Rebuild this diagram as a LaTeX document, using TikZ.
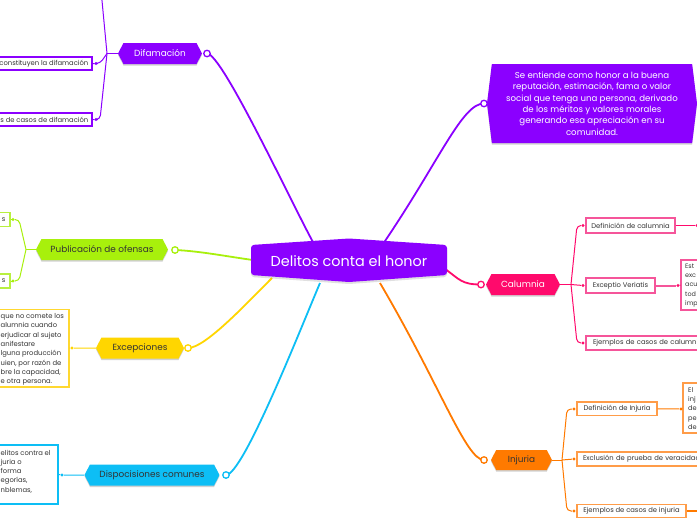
\documentclass[tikz,border=0pt]{standalone}
\usepackage{fontspec}
\setmainfont{Poppins}
\usetikzlibrary{shapes.symbols,calc,shadows}
\definecolor{cpur}{HTML}{8B00FF}
\definecolor{clime}{HTML}{A8F00C}
\definecolor{climel}{HTML}{B8F040}
\definecolor{cyel}{HTML}{FFD600}
\definecolor{cyell}{HTML}{FFD830}
\definecolor{ccya}{HTML}{0DBEF5}
\definecolor{cpink}{HTML}{FF0A6C}
\definecolor{cpinkl}{HTML}{F5559A}
\definecolor{corange}{HTML}{FF7A00}
\definecolor{corangel}{HTML}{FF9C48}
\definecolor{txt}{HTML}{333333}
\begin{document}
\begin{tikzpicture}[x=1pt,y=-1pt,
  branch/.style={shape=signal, signal to=east and west, signal pointer angle=125, inner sep=0pt,
     font=\fontsize{8.9}{10}\selectfont, drop shadow={shadow xshift=0pt, shadow yshift=-1.5pt, opacity=0.18, fill=black}},
  leaf/.style={draw, fill=white, line width=1.1pt, inner sep=0pt, font=\fontsize{6.8}{9}\selectfont, text=txt},
  leaftext/.style={inner sep=0pt, align=left, text=txt},
  ring/.style={circle, draw, fill=white, line width=1.3pt, minimum size=6.5pt, inner sep=0pt},
  dot/.style={circle, fill, minimum size=3.2pt, inner sep=0pt},
  conn/.style={line width=1.8pt},
  brk/.style={line width=1pt, rounded corners=4pt}]

\useasboundingbox (0,0) rectangle (697,520);
\fill[white] (0,0) rectangle (697,520);
\clip (0,0) rectangle (697,520);

% anchor points on the central node
\coordinate (c-dif) at (314,244);
\coordinate (c-desc) at (383,244);
\coordinate (c-pub) at (253,260);
\coordinate (c-exc) at (272,278);
\coordinate (c-dis) at (320,283);
\coordinate (c-cal) at (444,268);
\coordinate (c-inj) at (380,283);

% ---------- main connectors ----------
\draw[conn, cpur] (207,53.5) .. controls (222,53.5) and (290,200) .. (c-dif);
\draw[conn, cpur] (c-desc) .. controls (440,160) and (462,103.5) .. (484,103.5);
\draw[conn, clime] (175,250) .. controls (200,251) and (230,257) .. (c-pub);
\draw[conn, cyel] (188,348) .. controls (205,348) and (245,305) .. (c-exc);
\draw[conn, ccya] (226,475) .. controls (243,475) and (300,330) .. (c-dis);
\draw[conn, cpink] (c-cal) .. controls (460,280) and (462,284.5) .. (481,284.5);
\draw[conn, corange] (c-inj) .. controls (440,385) and (466,460) .. (484,460);

% ---------- branch nodes ----------
\node[branch, fill=cpur, text=white, minimum width=84, minimum height=21] (dif) at (160,53.5) {Difamación};
\node[ring, draw=cpur] (dif-r) at (207,53.5) {};
\node[branch, fill=clime, text=txt, minimum width=132, minimum height=21] (pub) at (102,249.5) {Publicación de ofensas};
\node[ring, draw=clime] (pub-r) at (175,250) {};
\node[branch, fill=cyel, text=txt, minimum width=88, minimum height=21] (exc) at (140,348) {Excepciones};
\node[ring, draw=cyel] (exc-r) at (188,348) {};
\node[branch, fill=ccya, text=txt, minimum width=135, minimum height=21] (dis) at (152,475) {Dispocisiones comunes};
\node[ring, draw=ccya] (dis-r) at (226,475) {};
\node[branch, fill=cpink, text=white, minimum width=74, minimum height=21] (cal) at (523,284.5) {Calumnia};
\node[ring, draw=cpink] (cal-r) at (481,284.5) {};
\node[branch, fill=corange, text=txt, minimum width=61, minimum height=20] (inj) at (521.5,460) {Injuria};
\node[ring, draw=corange] (inj-r) at (484,460) {};
\node[shape=signal, signal to=east and west, signal pointer angle=166, fill=cpur, text=white,
      minimum width=210, minimum height=79, inner sep=0pt, align=center,
      font=\fontsize{8.6}{11.4}\selectfont,
      drop shadow={shadow xshift=0pt, shadow yshift=-1.5pt, opacity=0.18, fill=black}] (desc) at (592,103.5)
  {Se entiende como honor a la buena\\reputación, estimación, fama o valor\\social que tenga una persona, derivado\\de los méritos y valores morales\\generando esa apreciación en su\\comunidad.};
\node[ring, draw=cpur] (desc-r) at (484,103.5) {};

% ---------- central node ----------
\fill[black, opacity=0.12, rounded corners=3pt] (251,247) -- (349,240) -- (447,247) -- (447,277) -- (349,284) -- (251,277) -- cycle;
\fill[cpur, rounded corners=3pt] (251,245) -- (349,238.5) -- (447,245) -- (447,275) -- (349,282) -- (251,275) -- cycle;
\node[text=white, font=\fontsize{14.4}{16}\selectfont, inner sep=0pt] (center) at (349,261) {Delitos conta el honor};

% ---------- Difamación children ----------
\coordinate (dif-j) at (107,53.5);
\node[leaf, draw=cpur, minimum width=112, minimum height=13] (d1) at (36,63.5) {};
\node[leaf, draw=cpur, minimum width=112, minimum height=13] (d2) at (36,119.5) {};
\node[leaftext, anchor=east, font=\fontsize{6.8}{9}\selectfont] (d1-t) at (88.5,63.5) {constituyen la difamación};
\node[leaftext, anchor=east, font=\fontsize{6.8}{9}\selectfont] (d2-t) at (88.5,119.5) {s de casos de difamación};
\node[dot, cpur] (d1-dot) at (96,63.5) {};
\node[dot, cpur] (d2-dot) at (96,119.5) {};
\coordinate (d0) at (101,-10);
\draw[brk, cpur] (dif.west) -- (dif-j);
\draw[brk, cpur] (dif-j) -- (d0);
\draw[brk, cpur] (dif-j) -- (100,63.5) -- (d1-dot);
\draw[brk, cpur] (dif-j) -- (100,119.5) -- (d2-dot);
\draw[cpur, line width=1pt] (d1-dot) -- (d1.east);
\draw[cpur, line width=1pt] (d2-dot) -- (d2.east);

% ---------- Publicación children ----------
\coordinate (pub-j) at (26,249.5);
\node[leaf, draw=climel, minimum width=30, minimum height=14] (p1) at (-5,219.5) {};
\node[leaf, draw=climel, minimum width=30, minimum height=14] (p2) at (-5,281) {};
\node[leaftext, anchor=east, font=\fontsize{6.8}{9}\selectfont] (p1-t) at (5.5,219.5) {s};
\node[leaftext, anchor=east, font=\fontsize{6.8}{9}\selectfont] (p2-t) at (5.5,281) {s};
\node[dot, clime] (p1-dot) at (13,219.5) {};
\node[dot, clime] (p2-dot) at (13,281) {};
\draw[brk, clime] (pub.west) -- (pub-j);
\draw[brk, clime] (pub-j) -- (19,219.5) -- (p1-dot);
\draw[brk, clime] (pub-j) -- (19,281) -- (p2-dot);
\draw[clime, line width=1pt] (p1-dot) -- (p1.east);
\draw[clime, line width=1pt] (p2-dot) -- (p2.east);

% ---------- Excepciones child ----------
\node[leaf, draw=cyell, minimum width=89, minimum height=77.5] (e1) at (24.5,348.25) {};
\node[leaftext, anchor=west, font=\fontsize{6.8}{9.3}\selectfont] (e1-t) at (0.5,349.5)
  {que no comete los\\alumnia cuando\\erjudicar al sujeto\\anifestare\\lguna producción\\uien, por razón de\\bre la capacidad,\\e otra persona.};
\node[dot, cyel] (e1-dot) at (72,348) {};
\draw[cyel, line width=1pt] (exc.west) -- (e1-dot) -- (e1.east);

% ---------- Dispocisiones child ----------
\node[leaf, draw=ccya, minimum width=78, minimum height=59] (s1) at (19,474.5) {};
\node[leaftext, anchor=west, font=\fontsize{6.8}{9.2}\selectfont] (s1-t) at (0.5,471.5)
  {elitos contra el\\juria o\\forma\\egorías,\\nblemas,};
\node[dot, ccya] (s1-dot) at (62,475) {};
\draw[ccya, line width=1pt] (dis.west) -- (s1-dot) -- (s1.east);

% ---------- Calumnia children ----------
\coordinate (cal-j) at (571,284.5);
\node[leaf, draw=cpinkl, minimum width=89, minimum height=15] (c1) at (630.5,225.5) {Definición de calumnia};
\node[leaf, draw=cpinkl, minimum width=69, minimum height=15] (c2) at (620.5,285.5) {Exceptio Veriatis};
\node[leaf, draw=cpinkl, minimum width=126, minimum height=14, text width=112, align=left] (c3) at (649,343) {Ejemplos de casos de calumnia};
\node[dot, cpink] (c1-dot) at (583,225.5) {};
\node[dot, cpink] (c2-dot) at (583,285.5) {};
\node[dot, cpink] (c3-dot) at (583,343) {};
\draw[brk, cpink] (cal.east) -- (cal-j);
\draw[brk, cpink] (cal-j) -- (577,225.5) -- (c1-dot);
\draw[brk, cpink] (cal-j) -- (c2-dot);
\draw[brk, cpink] (cal-j) -- (577,343) -- (c3-dot);
\node[dot, cpink] (c1n) at (697,225.5) {};
\draw[cpink, line width=1.2pt] (c1.east) -- (c1n);
\node[leaf, draw=cpinkl, minimum width=39, minimum height=50] (c2r) at (700.5,285) {};
\node[leaftext, anchor=west, font=\fontsize{6.4}{9.1}\selectfont] (c2r-t) at (685,285.5) {Est\\exc\\acu\\tod\\imp};
\node[dot, cpink] (c2r-dot) at (678,285.5) {};
\draw[cpinkl, line width=2pt] (c2.east) -- (c2r-dot);
\draw[cpink, line width=1pt] (c2r-dot) -- (c2r.west);

% ---------- Injuria children ----------
\coordinate (inj-j) at (562,460);
\node[leaf, draw=corangel, minimum width=80, minimum height=13.5] (i1) at (617,408.75) {Definición de Injuria};
\node[leaf, draw=corangel, minimum width=135, minimum height=14, text width=123, align=left] (i2) at (644.5,459) {Exclusión de prueba de veracidad};
\node[leaf, draw=corangel, minimum width=109, minimum height=13] (i3) at (631.5,511) {Ejemplos de casos de injuria};
\node[dot, corange] (i1-dot) at (574,409) {};
\node[dot, corange] (i2-dot) at (574,459) {};
\node[dot, corange] (i3-dot) at (574,511) {};
\draw[brk, corange] (inj.east) -- (inj-j);
\draw[brk, corange] (inj-j) -- (567,409) -- (i1-dot);
\draw[brk, corange] (inj-j) -- (i2-dot);
\draw[brk, corange] (inj-j) -- (567,511) -- (i3-dot);
\node[leaf, draw=corangel, minimum width=37, minimum height=50] (i1r) at (701.5,408) {};
\node[leaftext, anchor=west, font=\fontsize{6.6}{9.2}\selectfont] (i1r-t) at (688,408.5) {El\\inj\\de\\pe\\de};
\node[dot, corange] (i1r-dot) at (681,409) {};
\draw[corange, line width=1pt] (i1.east) -- (i1r-dot) -- (i1r.west);
\coordinate (i3n) at (705,511);
\draw[corange, line width=2pt] (i3.east) -- (i3n);
\end{tikzpicture}
\end{document}
